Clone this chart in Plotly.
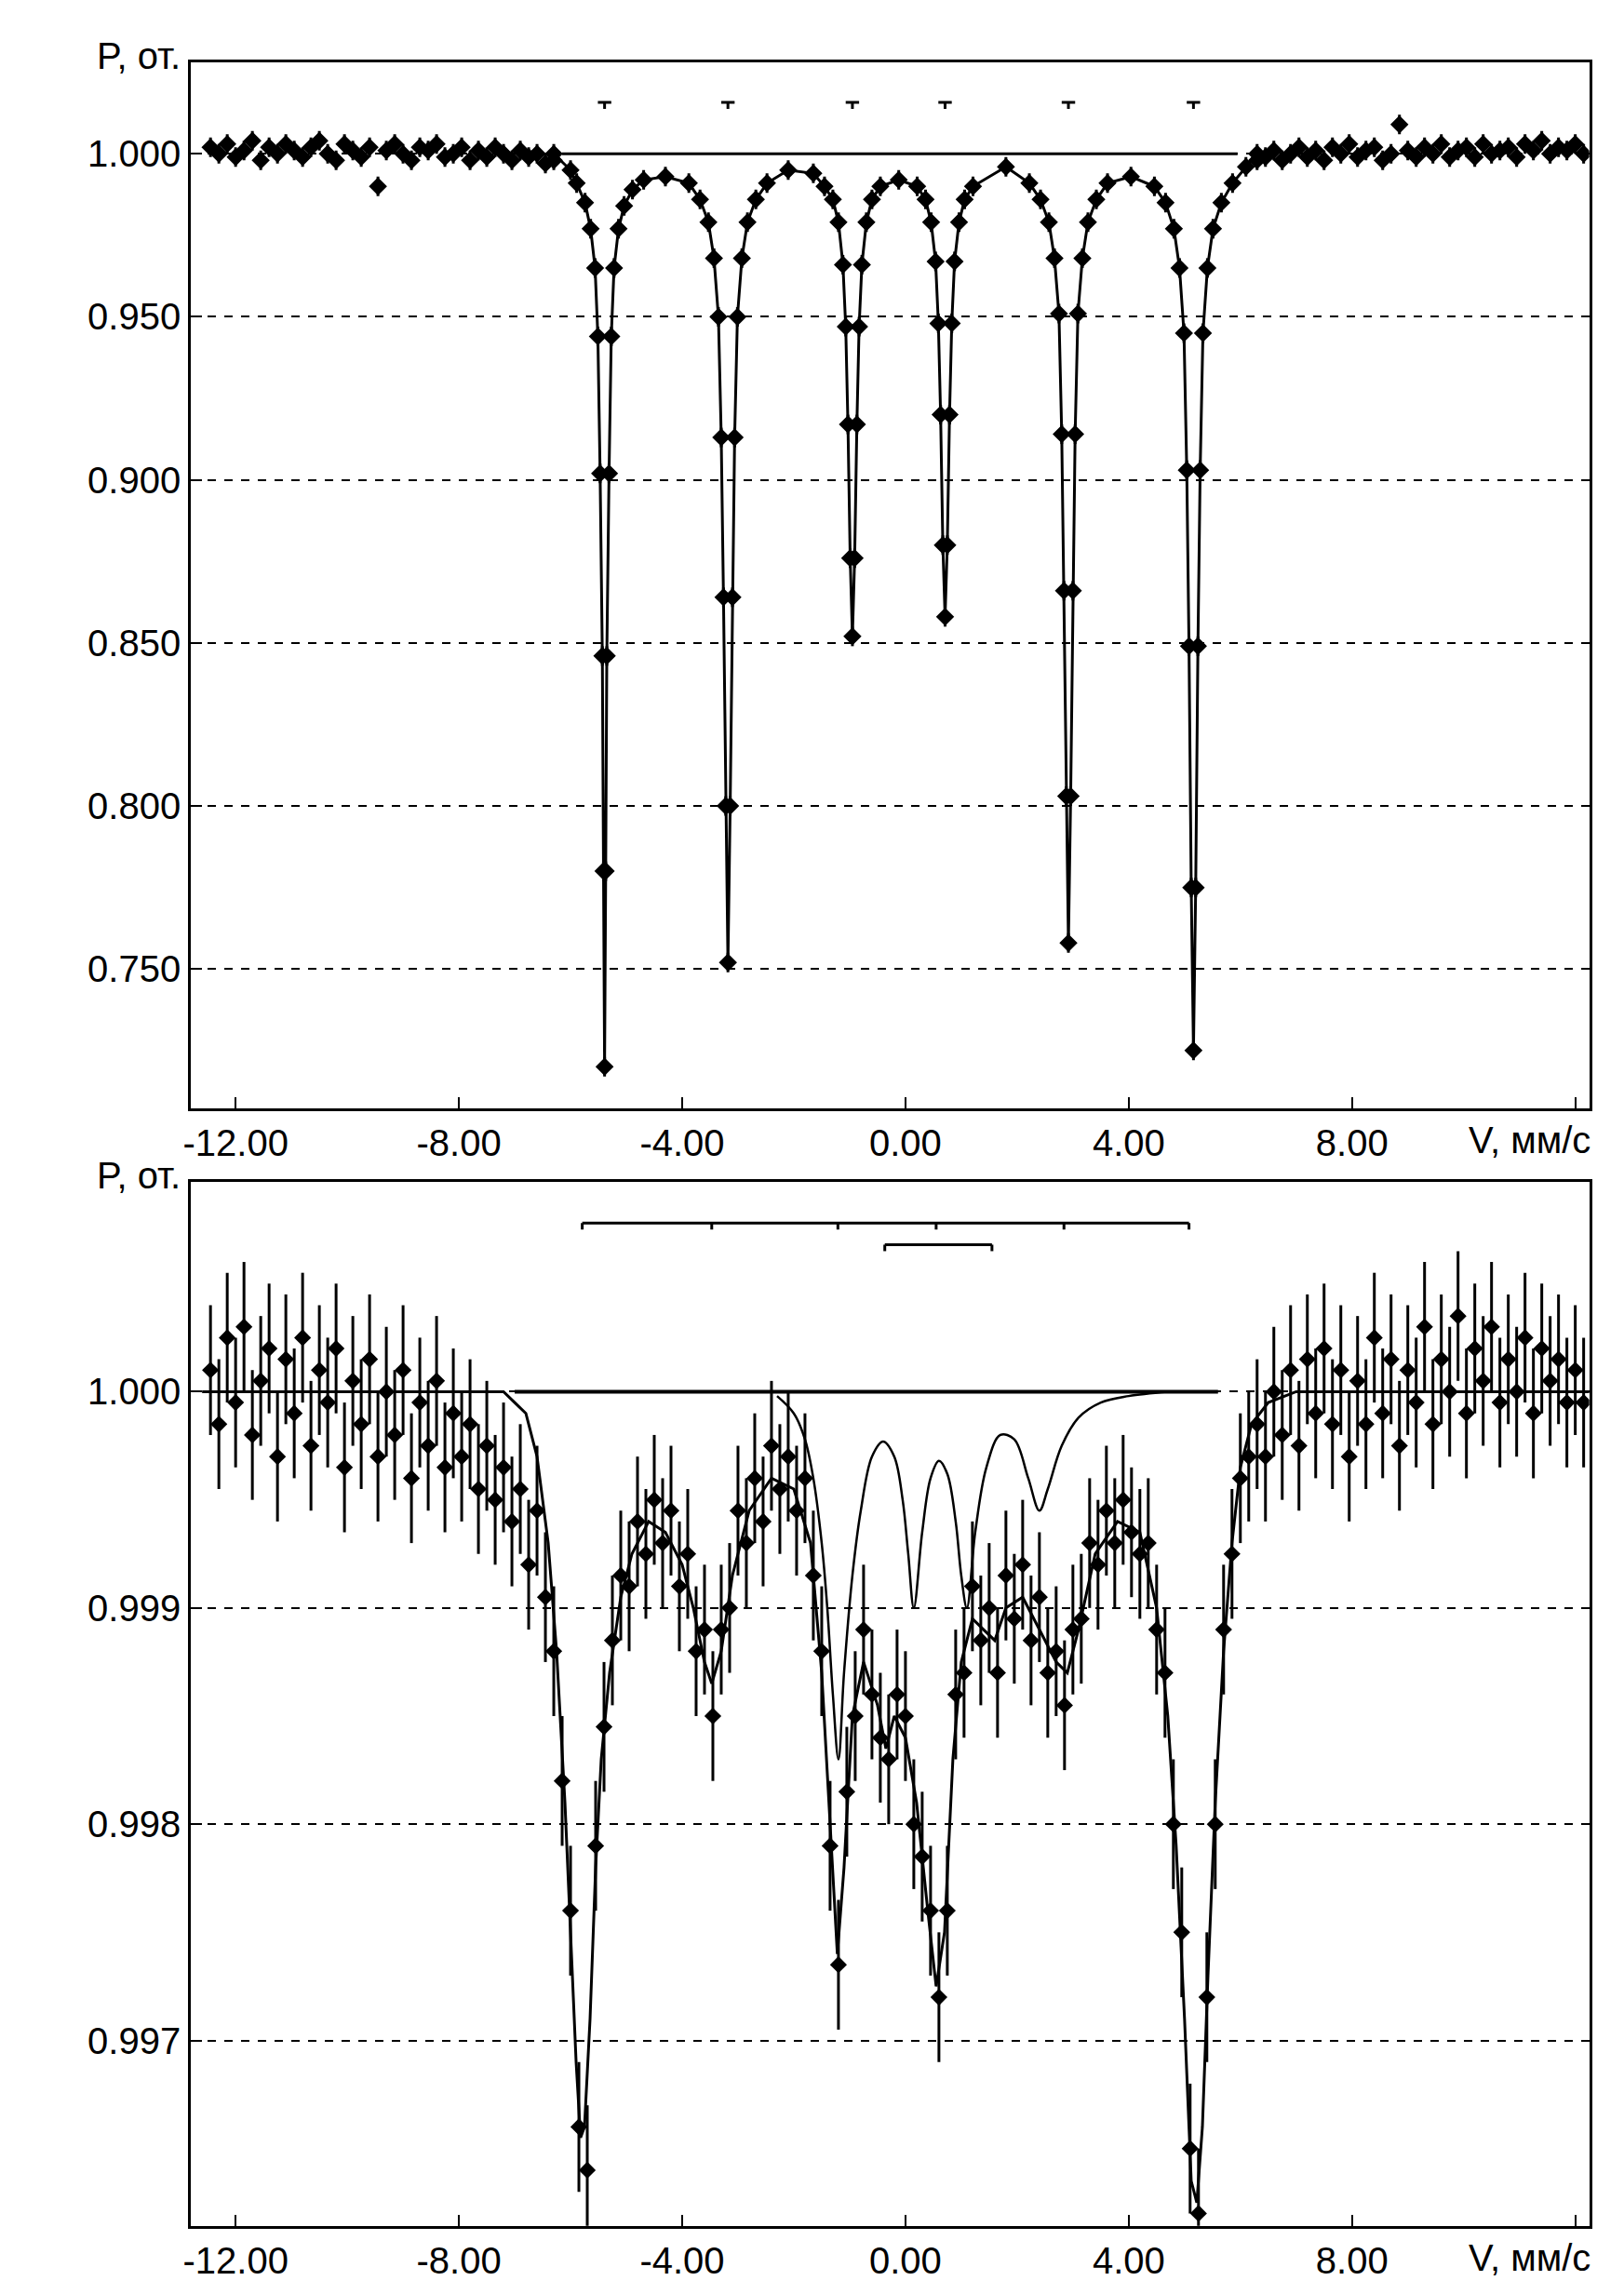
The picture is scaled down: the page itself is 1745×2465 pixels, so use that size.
import numpy as np
import plotly.graph_objects as go

# ---------------- top panel ----------------
top_fit_v = [-6.3,-6.0,-5.89,-5.74,-5.64,-5.56,-5.51,-5.47,-5.43,-5.41,-5.39,-5.37,-5.35,-5.31,-5.27,-5.22,-5.14,-5.04,-4.89,-4.69,-4.3,
             -3.88,-3.68,-3.53,-3.43,-3.35,-3.30,-3.26,-3.22,-3.18,-3.14,-3.10,-3.06,-3.01,-2.93,-2.83,-2.68,-2.48,-2.1,
             -1.65,-1.45,-1.30,-1.20,-1.12,-1.07,-1.03,-0.99,-0.95,-0.91,-0.87,-0.83,-0.78,-0.70,-0.60,-0.45,-0.12,
             0.21,0.36,0.46,0.54,0.59,0.63,0.67,0.71,0.75,0.79,0.83,0.88,0.96,1.06,1.21,1.8,
             2.22,2.42,2.57,2.67,2.75,2.80,2.84,2.88,2.92,2.96,3.00,3.04,3.09,3.17,3.27,3.42,3.62,4.04,
             4.46,4.66,4.81,4.91,4.99,5.04,5.08,5.12,5.16,5.20,5.24,5.28,5.33,5.41,5.51,5.66,5.86,6.1,6.3]
top_fit_p = [1.000,0.995,0.991,0.985,0.977,0.965,0.944,0.902,0.846,0.780,0.720,0.780,0.846,0.902,0.944,0.965,0.977,0.984,0.989,0.992,0.993,
             0.991,0.986,0.979,0.968,0.950,0.913,0.864,0.800,0.752,0.800,0.864,0.913,0.950,0.968,0.979,0.986,0.991,0.995,
             0.994,0.990,0.986,0.979,0.966,0.947,0.917,0.876,0.852,0.876,0.917,0.947,0.966,0.979,0.986,0.990,0.992,
             0.990,0.986,0.979,0.967,0.948,0.920,0.880,0.858,0.880,0.920,0.948,0.967,0.979,0.986,0.990,0.996,
             0.991,0.986,0.979,0.968,0.951,0.914,0.866,0.803,0.758,0.803,0.866,0.914,0.951,0.968,0.979,0.986,0.991,0.993,
             0.990,0.985,0.977,0.965,0.945,0.903,0.849,0.775,0.725,0.775,0.849,0.903,0.945,0.965,0.977,0.985,0.991,0.996,1.000]
top_left_p = [1.002,1.000,1.003,0.999,1.001,1.004,0.998,1.002,1.000,1.003,1.001,0.999,1.002,1.004,1.000,0.998,1.003,1.001,0.999,1.002,
              0.990,1.001,1.003,1.000,0.998,1.002,1.001,1.003,0.999,1.000,1.002,0.998,1.001,0.999,1.002,1.000,0.998,1.001,0.999,1.000,0.997,0.998]
top_right_p = [0.998,0.999,1.001,0.998,1.000,1.002,0.999,1.001,0.998,1.002,1.000,1.003,0.999,1.001,1.002,0.998,1.000,1.009,1.001,0.999,
               1.002,1.000,1.003,0.999,1.001,1.002,0.999,1.003,1.000,1.001,1.002,0.999,1.003,1.001,1.004,1.000,1.002,1.001,1.003,1.000]
top_left_v = np.round(-12.45 + 0.15 * np.arange(len(top_left_p)), 2)
top_right_v = np.round(6.3 + 0.15 * np.arange(len(top_right_p)), 2)
top_sticks = [-5.39, -3.18, -0.95, 0.71, 2.92, 5.16]
top_stick_level = 1.0158

# ---------------- bottom panel ----------------
bot_p = [1.00010,0.99985,1.00025,0.99995,1.00030,0.99980,1.00005,1.00020,0.99970,1.00015,0.99990,1.00025,0.99975,1.00010,0.99995,1.00020,
         0.99965,1.00005,0.99985,1.00015,0.99970,1.00000,0.99980,1.00010,0.99960,0.99995,0.99975,1.00005,0.99965,0.99990,0.99970,0.99985,
         0.99955,0.99975,0.99950,0.99965,
         0.99940,0.99955,0.99920,0.99945,0.99905,0.99880,0.99820,0.99760,0.99660,0.99640,0.99790,0.99845,0.99885,0.99915,0.99910,0.99940,
         0.99925,0.99950,0.99930,0.99945,0.99910,0.99925,0.99880,0.99890,0.99850,0.99890,0.99900,0.99945,0.99930,0.99960,0.99940,0.99975,
         0.99955,0.99970,0.99945,0.99960,0.99915,0.99880,0.99790,0.99735,0.99815,0.99850,0.99890,0.99860,0.99840,0.99830,0.99860,0.99850,
         0.99800,0.99785,0.99760,0.99720,0.99760,0.99860,0.99870,0.99910,0.99885,0.99900,0.99870,0.99915,0.99895,0.99920,0.99885,0.99905,
         0.99870,0.99880,0.99855,0.99890,0.99895,0.99930,0.99920,0.99945,0.99930,0.99950,0.99935,0.99925,0.99930,0.99890,0.99870,0.99800,
         0.99750,0.99650,0.99620,0.99720,0.99800,0.99890,0.99925,0.99960,0.99970,0.99985,
         0.99970,1.00000,0.99980,1.00010,0.99975,1.00015,0.99990,1.00020,0.99985,1.00010,0.99970,1.00005,0.99985,1.00025,0.99990,1.00015,
         0.99975,1.00010,0.99995,1.00030,0.99985,1.00015,1.00000,1.00035,0.99990,1.00020,1.00005,1.00030,0.99995,1.00015,1.00000,1.00025,
         0.99990,1.00020,1.00005,1.00015,0.99995,1.00010,0.99995]
bot_v = np.round(-12.45 + 0.15 * np.arange(len(bot_p)), 2)

bot_fit_v = [-12.6,-7.2,-7.0,-6.8,-6.6,-6.4,-6.25,-6.1,-6.0,-5.9,-5.82,-5.75,-5.65,-5.55,-5.45,-5.3,-5.1,-4.9,-4.6,-4.3,-4.0,-3.8,-3.6,-3.47,
             -3.3,-3.1,-2.8,-2.4,-2.0,-1.7,-1.5,-1.35,-1.22,-1.1,-0.95,-0.75,-0.5,-0.35,-0.2,0.0,0.2,0.4,0.55,0.7,0.85,1.0,1.2,1.4,1.6,1.8,
             2.1,2.4,2.7,2.9,3.1,3.4,3.8,4.2,4.5,4.7,4.85,5.0,5.12,5.22,5.32,5.42,5.55,5.7,5.85,6.0,6.2,6.5,7.0,12.3]
bot_fit_p = [1.0,1.0,0.99995,0.9999,0.9997,0.9993,0.9988,0.9981,0.9975,0.9969,0.99655,0.9966,0.9971,0.9978,0.9983,0.9987,0.99905,0.99925,0.9994,0.99935,0.9992,0.9990,0.99875,0.99865,
             0.9988,0.99915,0.99945,0.9996,0.99955,0.9993,0.9987,0.9980,0.9974,0.9978,0.9985,0.99875,0.99855,0.99835,0.9985,0.9984,0.9981,0.9976,0.99725,0.9975,0.9983,0.99875,0.99895,0.9989,0.99885,0.9990,
             0.99905,0.9989,0.99875,0.9987,0.9989,0.99925,0.9994,0.99935,0.9990,0.9985,0.9979,0.9971,0.99635,0.99625,0.9966,0.9973,0.9981,0.9988,0.9993,0.99965,0.99985,0.99995,1.0,1.0]
comp_v = [-2.3,-2.0,-1.8,-1.65,-1.5,-1.4,-1.3,-1.2,-1.1,-0.95,-0.8,-0.6,-0.4,-0.2,-0.05,0.05,0.15,0.3,0.45,0.6,0.75,0.9,1.0,1.1,1.25,
          1.45,1.7,1.95,2.2,2.4,2.55,2.8,3.1,3.5,4.0,4.7]
comp_p = [0.99998,0.99990,0.99978,0.99960,0.99930,0.99900,0.99860,0.99830,0.99870,0.99915,0.99945,0.99970,0.99977,0.99970,0.99950,0.99925,0.99900,0.99935,0.99960,0.99968,0.99962,0.99940,0.99915,0.99900,0.99935,
          0.99965,0.99980,0.99978,0.99960,0.99945,0.99955,0.99975,0.99988,0.99995,0.99998,1.0]
sextet_sticks = [-5.79, -3.47, -1.21, 0.55, 2.84, 5.08]
sextet_level = 1.00078
doublet_sticks = [-0.37, 1.55]
doublet_level = 1.00068

x_ticks = [-12, -8, -4, 0, 4, 8, 12]
x_labels = ["-12.00", "-8.00", "-4.00", "0.00", "4.00", "8.00", ""]
x_unit = "V, мм/с"
top_y_ticks = [0.750, 0.800, 0.850, 0.900, 0.950, 1.000]
bot_y_ticks = [0.997, 0.998, 0.999, 1.000]

FONT = "Liberation Sans"
fig = go.Figure()
mk = dict(symbol="diamond", size=15, color="black")

fig.add_trace(go.Scatter(x=top_fit_v, y=top_fit_p, mode="lines", line=dict(color="black", width=3), xaxis="x", yaxis="y"))
fig.add_trace(go.Scatter(x=[-6.15, 5.95], y=[1.0, 1.0], mode="lines", line=dict(color="black", width=3), xaxis="x", yaxis="y"))
for xs, ys in [(top_left_v, top_left_p), (top_fit_v, top_fit_p), (top_right_v, top_right_p)]:
    fig.add_trace(go.Scatter(x=xs, y=ys, mode="markers", marker=mk,
                             error_y=dict(type="constant", value=0.003, color="black", thickness=3, width=0),
                             xaxis="x", yaxis="y"))
fig.add_trace(go.Scatter(x=bot_v, y=bot_p, mode="markers", marker=dict(mk, size=14),
                         error_y=dict(type="constant", value=0.0003, color="black", thickness=3, width=0),
                         xaxis="x2", yaxis="y2"))
fig.add_trace(go.Scatter(x=bot_fit_v, y=bot_fit_p, mode="lines", line=dict(color="black", width=3), xaxis="x2", yaxis="y2"))
fig.add_trace(go.Scatter(x=[-7.0, 5.6], y=[1.0, 1.0], mode="lines", line=dict(color="black", width=4), xaxis="x2", yaxis="y2"))
fig.add_trace(go.Scatter(x=comp_v, y=comp_p, mode="lines", line=dict(color="black", width=2.5, shape="spline"), xaxis="x2", yaxis="y2"))

for s in top_sticks:
    fig.add_shape(type="line", x0=s - 0.12, x1=s + 0.12, y0=top_stick_level, y1=top_stick_level, xref="x", yref="y", line=dict(color="black", width=3))
    fig.add_shape(type="line", x0=s, x1=s, y0=top_stick_level, y1=top_stick_level - 0.002, xref="x", yref="y", line=dict(color="black", width=3))
fig.add_shape(type="line", x0=sextet_sticks[0], x1=sextet_sticks[-1], y0=sextet_level, y1=sextet_level, xref="x2", yref="y2", line=dict(color="black", width=3))
for s in sextet_sticks:
    fig.add_shape(type="line", x0=s, x1=s, y0=sextet_level, y1=sextet_level - 0.00003, xref="x2", yref="y2", line=dict(color="black", width=3))
fig.add_shape(type="line", x0=doublet_sticks[0], x1=doublet_sticks[-1], y0=doublet_level, y1=doublet_level, xref="x2", yref="y2", line=dict(color="black", width=3))
for s in doublet_sticks:
    fig.add_shape(type="line", x0=s, x1=s, y0=doublet_level, y1=doublet_level - 0.00003, xref="x2", yref="y2", line=dict(color="black", width=3))

ax_common = dict(showline=True, linecolor="black", linewidth=3, mirror=True, ticks="inside", ticklen=12, automargin=False,
                 tickwidth=2, tickcolor="black", zeroline=False, tickfont=dict(family=FONT, size=40, color="black"))
xcommon = dict(ax_common, range=[-12.8, 12.25], tickvals=x_ticks, ticktext=x_labels, showgrid=False)
ycommon = dict(ax_common, showgrid=True, gridcolor="black", gridwidth=2, griddash="dash")

fig.update_layout(
    width=1745, height=2465, paper_bgcolor="white", plot_bgcolor="white", showlegend=False,
    margin=dict(l=0, r=0, t=0, b=0),
    xaxis=dict(xcommon, domain=[0.113, 0.974], anchor="y"),
    yaxis=dict(ycommon, domain=[0.520, 0.976], range=[0.7072, 1.028], tickvals=top_y_ticks, tickformat=".3f", anchor="x"),
    xaxis2=dict(xcommon, domain=[0.113, 0.974], anchor="y2"),
    yaxis2=dict(ycommon, domain=[0.033, 0.488], range=[0.996143, 1.00097], tickvals=bot_y_ticks, tickformat=".3f", anchor="x2"),
)
for yy in [0.976, 0.488]:
    fig.add_annotation(text="P, от.", x=0.108, y=yy + 0.003, xref="paper", yref="paper", xanchor="right", yanchor="middle",
                       showarrow=False, font=dict(family=FONT, size=40, color="black"))
for yy in [0.520, 0.033]:
    fig.add_annotation(text=x_unit, x=0.976, y=yy - 0.004, xref="paper", yref="paper", xanchor="right", yanchor="top",
                       showarrow=False, font=dict(family=FONT, size=40, color="black"))

fig.write_html("out.html")
